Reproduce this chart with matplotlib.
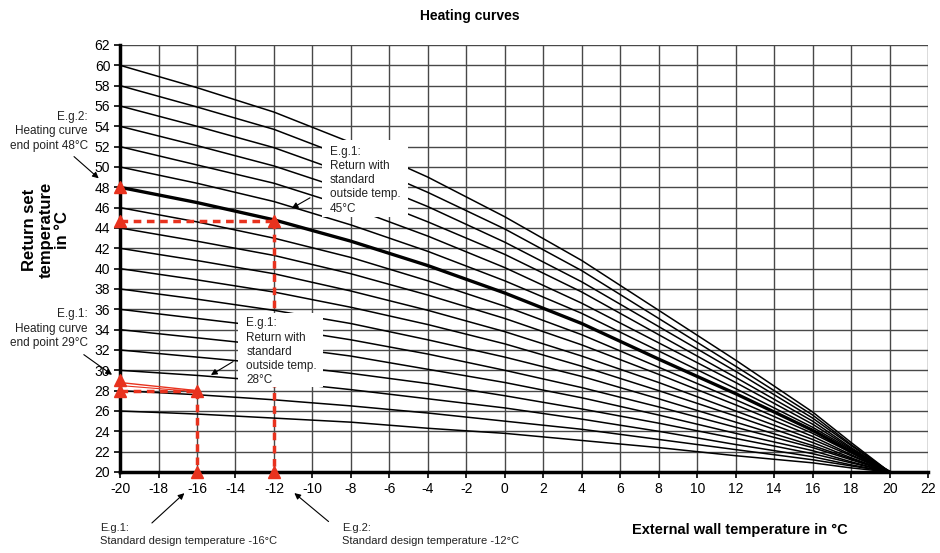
import matplotlib
matplotlib.use("Agg")
import matplotlib.pyplot as plt
import matplotlib.patches as mpatches

plt.rcParams["font.family"] = ["Liberation Sans", "DejaVu Sans"]
plt.rcParams["axes.unicode_minus"] = False

# ── Daten ──
x_out = [-20, -16, -12, -8, -4, 0, 4, 8, 12, 16, 18, 20]
end_points = [26, 28, 30, 32, 34, 36, 38, 40, 42, 44, 46, 48, 50, 52, 54, 56, 58, 60]
curves = [
    [26.0, 25.7, 25.3, 24.9, 24.3, 23.8, 23.1, 22.4, 21.6, 20.9, 20.4, 20.0],
    [28.0, 27.6, 27.1, 26.5, 25.8, 25.0, 24.2, 23.2, 22.2, 21.2, 20.6, 20.0],
    [30.0, 29.5, 28.9, 28.1, 27.2, 26.3, 25.2, 24.0, 22.7, 21.5, 20.7, 20.0],
    [32.0, 31.3, 30.6, 29.7, 28.7, 27.5, 26.2, 24.8, 23.3, 21.8, 20.9, 20.0],
    [34.0, 33.2, 32.4, 31.4, 30.1, 28.8, 27.3, 25.6, 23.8, 22.1, 21.0, 20.0],
    [36.0, 35.1, 34.2, 33.0, 31.6, 30.0, 28.3, 26.4, 24.4, 22.4, 21.2, 20.0],
    [38.0, 37.0, 35.9, 34.6, 33.0, 31.3, 29.4, 27.2, 24.9, 22.6, 21.3, 20.0],
    [40.0, 38.9, 37.7, 36.2, 34.5, 32.6, 30.4, 28.0, 25.5, 22.9, 21.4, 20.0],
    [42.0, 40.8, 39.5, 37.8, 35.9, 33.8, 31.4, 28.8, 26.0, 23.2, 21.6, 20.0],
    [44.0, 42.7, 41.3, 39.5, 37.4, 35.1, 32.5, 29.6, 26.6, 23.5, 21.7, 20.0],
    [46.0, 44.6, 43.0, 41.1, 38.8, 36.3, 33.5, 30.3, 27.1, 23.8, 21.9, 20.0],
    [48.0, 46.5, 44.8, 42.7, 40.3, 37.6, 34.6, 31.1, 27.7, 24.1, 22.0, 20.0],
    [50.0, 48.4, 46.6, 44.3, 41.7, 38.8, 35.6, 31.9, 28.2, 24.4, 22.2, 20.0],
    [52.0, 50.2, 48.4, 46.0, 43.2, 40.1, 36.6, 32.7, 28.8, 24.7, 22.3, 20.0],
    [54.0, 52.1, 50.1, 47.6, 44.6, 41.4, 37.7, 33.5, 29.3, 25.0, 22.4, 20.0],
    [56.0, 54.0, 51.9, 49.2, 46.1, 42.6, 38.7, 34.3, 29.9, 25.3, 22.6, 20.0],
    [58.0, 55.9, 53.7, 50.8, 47.5, 43.9, 39.8, 35.1, 30.4, 25.6, 22.7, 20.0],
    [60.0, 57.8, 55.4, 52.4, 49.0, 45.1, 40.8, 35.9, 31.0, 25.9, 22.9, 20.0],
]
bold_end = 48

# Beispiele (rot)
eg2_design, eg2_return = -12, 44.7
eg1_design, eg1_return = -16, 28.0
eg1_end = 29.0
red_pts_x = [-20, -20, -12, -20, -20, -16, -16, -12]
red_pts_y = [48.0, 44.7, 44.7, 29.0, 28.0, 28.0, 20.0, 20.0]

RED = "#e8321e"
GRID = "#484848"
TXT = "#222222"

fig = plt.figure(figsize=(9.4, 5.53), dpi=100)
ax = fig.add_axes([0.1277, 0.1465, 0.8596, 0.7722])
ax.set_xlim(-20, 22)
ax.set_ylim(20, 62)
ax.set_xticks(range(-20, 23, 2))
ax.set_yticks(range(20, 63, 2))
ax.grid(True, color=GRID, lw=1.0)
ax.set_axisbelow(True)
for s in ["top", "right"]:
    ax.spines[s].set_visible(False)
for s in ["left", "bottom"]:
    ax.spines[s].set_linewidth(2.5)
    ax.spines[s].set_zorder(6)
ax.tick_params(direction="out", length=4, width=1.2, labelsize=10, pad=3)

# ── Heizkurven ──
for ep, ys in zip(end_points, curves):
    lw = 2.4 if ep == bold_end else 1.1
    ax.plot(x_out, ys, color="black", lw=lw, zorder=2, solid_joinstyle="round")

# ── Beispiele ──
dash = dict(color=RED, lw=2.5, ls=(0, (2.2, 1.6)), zorder=4)
ax.plot([-20, eg2_design], [eg2_return, eg2_return], **dash)
ax.plot([eg2_design, eg2_design], [eg2_return, 20], **dash)
ax.plot([-20, eg1_design], [eg1_return, eg1_return], **dash)
ax.plot([eg1_design, eg1_design], [eg1_return, 20], **dash)
ax.plot([-20, eg1_design], [eg1_end - 0.2, eg1_return], color=RED, lw=1.0, zorder=4)
ax.plot([-20, eg1_design], [eg1_end - 0.5, eg1_return - 0.1], color=RED, lw=0.8, zorder=4)
ax.plot(red_pts_x, red_pts_y, ls="none", marker="^", ms=8, color=RED,
        zorder=7, clip_on=False)

arrow = dict(arrowstyle="-|>", color="black", lw=0.8, mutation_scale=9)

# ── Textkästen im Diagramm ──
ax.add_patch(mpatches.Rectangle((-9.48, 45.07), 4.43, 7.57, fc="white",
                                ec="none", zorder=5))
ax.text(-9.11, 52.1, "E.g.1:\nReturn with\nstandard\noutside temp.\n45°C",
        fontsize=8.5, ha="left", va="top", linespacing=1.25, zorder=8, color=TXT)
ax.annotate("", xy=(-11.2, 45.8), xytext=(-10.0, 47.1), arrowprops=arrow, zorder=8)

ax.add_patch(mpatches.Rectangle((-13.85, 28.39), 4.42, 7.21, fc="white",
                                ec="none", zorder=5))
ax.text(-13.44, 35.2, "E.g.1:\nReturn with\nstandard\noutside temp.\n28°C",
        fontsize=8.5, ha="left", va="top", linespacing=1.25, zorder=8, color=TXT)
ax.annotate("", xy=(-15.4, 29.4), xytext=(-14.0, 31.0), arrowprops=arrow, zorder=8)

# ── Texte außerhalb ──
ax.text(-21.67, 55.5, "E.g.2:\nHeating curve\nend point 48°C", fontsize=8.5,
        ha="right", va="top", linespacing=1.25, color=TXT)
ax.annotate("", xy=(-21.0, 48.7), xytext=(-22.5, 51.2), arrowprops=arrow,
            annotation_clip=False)

ax.text(-21.67, 36.1, "E.g.1:\nHeating curve\nend point 29°C", fontsize=8.5,
        ha="right", va="top", linespacing=1.25, color=TXT)
ax.annotate("", xy=(-20.3, 29.4), xytext=(-22.0, 31.7), arrowprops=arrow,
            annotation_clip=False)

ax.text(-21.04, 15.0, "E.g.1:\nStandard design temperature -16°C",
        fontsize=8, ha="left", va="top", linespacing=1.45, color=TXT)
ax.annotate("", xy=(-16.55, 18.1), xytext=(-18.45, 14.8), arrowprops=arrow,
            annotation_clip=False)

ax.text(-8.44, 15.0, "E.g.2:\nStandard design temperature -12°C",
        fontsize=8, ha="left", va="top", linespacing=1.45, color=TXT)
ax.annotate("", xy=(-11.05, 18.1), xytext=(-9.05, 14.95), arrowprops=arrow,
            annotation_clip=False)

fig.text(0.787, 0.029, "External wall temperature in °C", fontsize=10.5,
         fontweight="bold", ha="center", va="bottom")
fig.text(0.049, 0.584, "Return set\ntemperature\nin °C", fontsize=12,
         fontweight="bold", ha="center", va="center", rotation=90,
         linespacing=1.1)
fig.text(0.5, 0.971, "Heating curves", fontsize=10, fontweight="bold",
         ha="center", va="center")

fig.savefig("out.png", dpi=100)
